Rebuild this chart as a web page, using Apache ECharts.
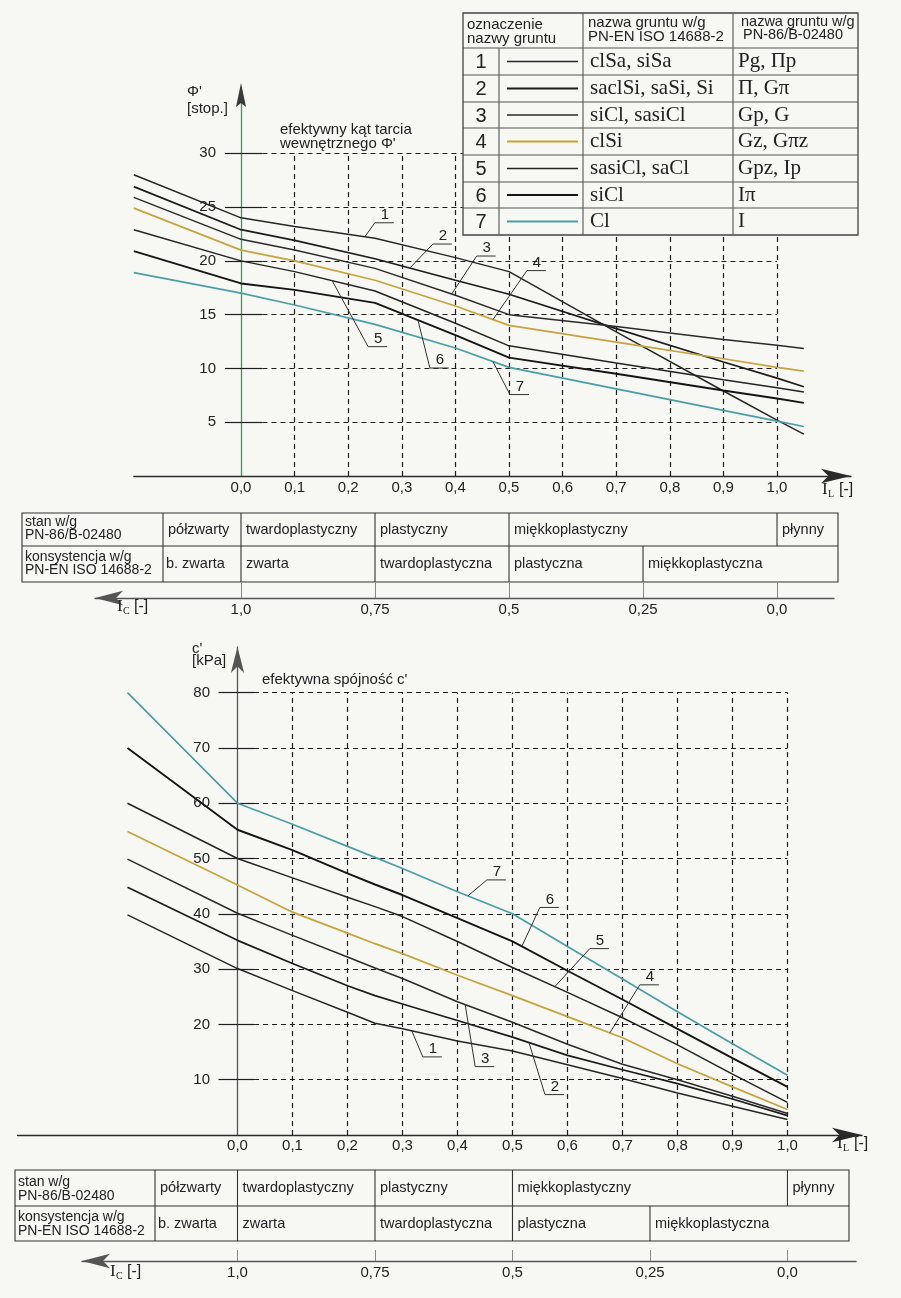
<!DOCTYPE html>
<html><head><meta charset="utf-8">
<script src="https://cdn.jsdelivr.net/npm/echarts@6/dist/echarts.min.js"></script>
<style>html,body{margin:0;padding:0;background:#f7f7f4;}#c{width:901px;height:1298px;}</style>
</head><body><div id="c"></div>
<script>
// ---------------- DATA ----------------
// upper chart: effective friction angle phi' [deg] vs IL
const phiX = [-0.2, 0, 0.1, 0.25, 0.4, 0.5, 0.7, 0.9, 1.0, 1.05];
const phi1 = [28.0, 24.0, 23.2, 22.1, 20.3, 19.0, 13.4, 7.9, 5.2, 3.9];
const phi2 = [26.9, 22.9, 21.9, 20.2, 18.2, 16.9, 13.7, 10.6, 9.1, 8.3];
const phi3 = [25.9, 22.0, 21.0, 19.3, 16.8, 15.0, 13.9, 12.7, 12.15, 11.85];
const phi4 = [24.9, 21.0, 20.0, 18.2, 15.8, 14.0, 12.45, 10.9, 10.1, 9.75];
const phi5 = [22.9, 20.0, 19.0, 17.2, 14.2, 12.1, 10.5, 8.95, 8.2, 7.8];
const phi6 = [20.9, 17.9, 17.3, 16.1, 13.1, 11.0, 9.5, 7.95, 7.2, 6.8];
const phi7 = [18.9, 17.0, 15.9, 14.1, 11.9, 10.1, 8.1, 6.1, 5.1, 4.6];
// lower chart: effective cohesion c' [kPa] vs IL
const cX = [-0.2, 0, 0.1, 0.2, 0.25, 0.3, 0.4, 0.5, 0.6, 0.7, 0.8, 0.9, 1.0];
const c1 = [39.8, 30.1, 26.1, 22.2, 20.2, 19.2, 17.0, 15.2, 12.7, 10.2, 7.6, 5.2, 2.8];
const c2 = [44.8, 35.2, 31.0, 27.0, 25.2, 23.7, 20.7, 17.7, 14.4, 11.8, 9.3, 6.5, 3.5];
const c3 = [49.9, 40.1, 36.1, 32.2, 30.2, 28.3, 24.1, 20.4, 16.4, 12.8, 10.0, 7.0, 3.9];
const c4 = [54.9, 45.2, 40.3, 36.5, 34.6, 32.8, 28.9, 25.2, 21.4, 17.6, 12.9, 8.7, 4.6];
const c5 = [60.0, 50.0, 46.5, 43.0, 41.3, 39.5, 35.0, 30.3, 25.8, 21.2, 16.3, 11.0, 5.9];
const c6 = [70.0, 55.2, 51.5, 47.3, 45.3, 43.4, 39.2, 35.0, 29.7, 24.5, 19.2, 13.9, 8.7];
const c7 = [80.0, 60.0, 56.2, 52.2, 50.2, 48.2, 44.0, 40.0, 34.1, 28.2, 22.3, 16.5, 10.8];
// ticks
const ilTicks = [0, 0.1, 0.2, 0.3, 0.4, 0.5, 0.6, 0.7, 0.8, 0.9, 1.0];
const phiTicks = [5, 10, 15, 20, 25, 30];
const cTicks = [10, 20, 30, 40, 50, 60, 70, 80];
const icAt = [0, 0.25, 0.5, 0.75, 1.0];
const icLabels = ['1,0', '0,75', '0,5', '0,25', '0,0'];
// legend table
const soilNo = ['1', '2', '3', '4', '5', '6', '7'];
const soilEN = ['clSa, siSa', 'saclSi, saSi, Si', 'siCl, sasiCl', 'clSi', 'sasiCl, saCl', 'siCl', 'Cl'];
const soilPN = ['Pg, \u03A0p', '\u03A0, G\u03C0', 'Gp, G', 'Gz, G\u03C0z', 'Gpz, Ip', 'I\u03C0', 'I'];
// consistency tables
const stanBounds = [0, 0.25, 0.5, 1.0];
const stanLabels = ['półzwarty', 'twardoplastyczny', 'plastyczny', 'miękkoplastyczny', 'płynny'];
const konsBounds = [0, 0.25, 0.5, 0.75];
const konsLabels = ['b. zwarta', 'zwarta', 'twardoplastyczna', 'plastyczna', 'miękkoplastyczna'];
// curve number call-outs: IL position on each curve
const phiNoteAt = [0.231, 0.315, 0.393, 0.47, 0.17, 0.33, 0.47];
const cNoteAt = [0.317, 0.53, 0.414, 0.677, 0.577, 0.517, 0.419];

// ---------------- STYLE ----------------
const SANS = '"Liberation Sans", Arial, sans-serif';
const SERIF = '"Liberation Serif", "Times New Roman", serif';
const INK = '#222';
const BG = '#f7f7f4';
const lineColors = ['#262626', '#1c1c1c', '#2a2a2a', '#c8a33c', '#242424', '#151515', '#4a9fa7'];
const lineWidths = [1.5, 1.7, 1.5, 1.7, 1.5, 1.9, 1.7];
const phiNoteOff = [[10, -14], [23, -24], [25, -38], [34, -49], [36, 66], [12, 48], [17, 33]];
const cNoteOff = [[11, 26], [16, 52], [10, 62], [30, -48], [35, -38], [18, -39], [19, -16]];

const chart = echarts.init(document.getElementById('c'));

const xFmt = v => (v < -1e-6 || v > 1.0001) ? '' : (Math.round(v * 10) / 10).toFixed(1).replace('.', ',');
const dash = { color: '#1e1e1e', width: 1.2, type: [5, 4] };
const solid = { color: '#1e1e1e', width: 1.2, type: 'solid' };

function curve(xs, ys, idx, k) {
  return { type: 'line', xAxisIndex: idx, yAxisIndex: idx, data: xs.map((x, i) => [x, ys[i]]),
    symbol: 'none', silent: true, z: 5, lineStyle: { color: lineColors[k], width: lineWidths[k] } };
}
function marks(idx, lines, style) {
  return { type: 'line', xAxisIndex: idx, yAxisIndex: idx, data: [], symbol: 'none', silent: true, z: 3,
    markLine: { silent: true, symbol: ['none', 'none'], label: { show: false }, animation: false,
      lineStyle: style, emphasis: { disabled: true }, data: lines } };
}
const phiSets = [phi1, phi2, phi3, phi4, phi5, phi6, phi7];
const cSets = [c1, c2, c3, c4, c5, c6, c7];

const series = [
  marks(0, phiTicks.map(v => [{ coord: [0.04, v] }, { coord: [1.0, v] }]).concat(
    ilTicks.slice(1).map(v => [{ coord: [v, 0] }, { coord: [v, 30] }])), dash),
  marks(0, phiTicks.map(v => [{ coord: [0, v] }, { coord: [0.04, v] }]), solid),
  marks(1, cTicks.map(v => [{ coord: [0.03, v] }, { coord: [1.0, v] }]).concat(
    ilTicks.slice(1).map(v => [{ coord: [v, 0] }, { coord: [v, 80] }])), dash),
  marks(1, cTicks.map(v => [{ coord: [0, v] }, { coord: [0.03, v] }]), solid)
];
phiSets.forEach((s, k) => series.push(curve(phiX, s, 0, k)));
cSets.forEach((s, k) => series.push(curve(cX, s, 1, k)));

const lab = { fontFamily: SANS, fontSize: 15, color: INK };
const icFmt = v => icLabels[icAt.findIndex(a => Math.abs(a - v) < 1e-6)] || '';
const option = {
  backgroundColor: BG,
  animation: false,
  grid: [
    { left: 133.8, top: 95.1, width: 717.2, height: 380.9, outerBoundsMode: 'none', containLabel: false },
    { left: 17.5, top: 647, width: 844.5, height: 488, outerBoundsMode: 'none', containLabel: false },
    { left: 95, top: 590, width: 739, height: 8, outerBoundsMode: 'none', containLabel: false },
    { left: 82, top: 1253, width: 774, height: 8, outerBoundsMode: 'none', containLabel: false }
  ],
  xAxis: [
    { type: 'value', gridIndex: 0, min: -0.2, max: 1.138, splitLine: { show: false }, axisTick: { show: false },
      axisLine: { lineStyle: { color: '#2a2a2a', width: 1.3 }, symbol: ['none', 'arrow'], symbolSize: [11, 30] },
      axisLabel: Object.assign({ customValues: ilTicks, formatter: xFmt, margin: 4 }, lab) },
    { type: 'value', gridIndex: 1, min: -0.4, max: 1.1355, splitLine: { show: false }, axisTick: { show: false },
      axisLine: { lineStyle: { color: '#2a2a2a', width: 1.3 }, symbol: ['none', 'arrow'], symbolSize: [11, 30] },
      axisLabel: Object.assign({ customValues: ilTicks, formatter: xFmt, margin: 3 }, lab) },
    { type: 'value', gridIndex: 2, min: -0.2724, max: 1.10634, splitLine: { show: false },
      axisLine: { onZero: false, lineStyle: { color: '#555', width: 1.3 }, symbol: ['arrow', 'none'], symbolSize: [11, 28] },
      axisTick: { customValues: icAt, inside: true, length: 15, lineStyle: { color: '#888', width: 1 } },
      axisLabel: Object.assign({ customValues: icAt, margin: 4, formatter: icFmt }, lab) },
    { type: 'value', gridIndex: 3, min: -0.2827, max: 1.12455, splitLine: { show: false },
      axisLine: { onZero: false, lineStyle: { color: '#555', width: 1.3 }, symbol: ['arrow', 'none'], symbolSize: [11, 28] },
      axisTick: { customValues: icAt, inside: true, length: 11, lineStyle: { color: '#888', width: 1 } },
      axisLabel: Object.assign({ customValues: icAt, margin: 4, formatter: icFmt }, lab) }
  ],
  yAxis: [
    { type: 'value', gridIndex: 0, min: 0, max: 35.41, splitLine: { show: false },
      axisLine: { onZero: true, lineStyle: { color: '#4f8d67', width: 1.3 } },
      axisTick: { customValues: phiTicks, length: 16, lineStyle: { color: '#1e1e1e', width: 1.2 } },
      axisLabel: Object.assign({ customValues: phiTicks, margin: -82.2 }, lab) },
    { type: 'value', gridIndex: 1, min: 0, max: 88.25, splitLine: { show: false },
      axisLine: { onZero: true, lineStyle: { color: '#555', width: 1.3 }, symbol: ['none', 'arrow'], symbolSize: [10, 26] },
      axisTick: { customValues: cTicks, length: 19, lineStyle: { color: '#1e1e1e', width: 1.2 } },
      axisLabel: Object.assign({ customValues: cTicks, margin: -192.5 }, lab) },
    { type: 'value', gridIndex: 2, min: 0, max: 1, show: false },
    { type: 'value', gridIndex: 3, min: 0, max: 1, show: false }
  ],
  series: series
};
chart.setOption(option);

// ---------------- GRAPHICS (tables, call-outs, labels) ----------------
const G = [];
function T(x, y, s, o) {
  o = o || {};
  G.push({ type: 'text', x: x, y: y, z: 200, silent: true,
    style: { text: s, x: 0, y: 0, fontFamily: o.ff || SANS, fontSize: o.fs || 15, fill: o.fill || INK,
      align: o.align || 'left', verticalAlign: 'middle', textAlign: o.align || 'left', textVerticalAlign: 'middle' } });
}
function L(x1, y1, x2, y2, c, w) {
  G.push({ type: 'line', z: 195, silent: true, shape: { x1: x1, y1: y1, x2: x2, y2: y2 },
    style: { stroke: c || '#333', lineWidth: w || 1 } });
}
function R(x, y, w, h, stroke, lw) {
  G.push({ type: 'rect', z: 190, silent: true, shape: { x: x, y: y, width: w, height: h },
    style: { fill: BG, stroke: stroke || '#333', lineWidth: lw || 1 } });
}
function interp(xs, ys, x) {
  for (let i = 0; i < xs.length - 1; i++) {
    if (x >= xs[i] && x <= xs[i + 1]) { const t = (x - xs[i]) / (xs[i + 1] - xs[i]); return ys[i] + t * (ys[i + 1] - ys[i]); }
  }
  return ys[ys.length - 1];
}
// call-outs
function notes(gi, xs, sets, at, off) {
  at.forEach((x, k) => {
    const p = chart.convertToPixel({ gridIndex: gi }, [x, interp(xs, sets[k], x)]);
    const ux = p[0] + off[k][0], uy = p[1] + off[k][1];
    L(p[0], p[1], ux, uy, '#333', 1);
    L(ux, uy, ux + 19, uy, '#333', 1);
    T(ux + 10, uy - 8, soilNo[k], { align: 'center' });
  });
}
notes(0, phiX, phiSets, phiNoteAt, phiNoteOff);
notes(1, cX, cSets, cNoteAt, cNoteOff);

// top y-axis arrow (dark head on the green axis line)
const ya = chart.convertToPixel({ gridIndex: 0 }, [0, 35.41]);
G.push({ type: 'polygon', z: 200, silent: true,
  shape: { points: [[ya[0], ya[1] - 12], [ya[0] + 5, ya[1] + 12], [ya[0], ya[1] + 8], [ya[0] - 5, ya[1] + 12]] },
  style: { fill: '#3a3a3a' } });

// axis titles
T(187, 92, "\u03A6'"); T(187, 109, '[stop.]');
T(280, 130, 'efektywny kąt tarcia'); T(280, 144, "wewnętrznego \u03A6'");
T(192, 649, "c'"); T(192, 661, '[kPa]');
T(262, 680, "efektywna spójność c'");
function sub(x, y, main, s) {
  T(x, y, main, { ff: SERIF, fs: 17 });
  T(x + 6, y + 4, s, { ff: SERIF, fs: 10 });
  T(x + 17, y, '[-]', { fs: 16 });
}
sub(822, 490, 'I', 'L');
sub(837, 1144, 'I', 'L');
sub(117, 607, 'I', 'C');
sub(110, 1272, 'I', 'C');

// consistency tables
function consTable(ax, left, right, labelEnd, y0, y1, y2, ly) {
  const px = v => chart.convertToPixel({ xAxisIndex: ax }, v);
  R(left, y0, right - left, y2 - y0, '#333', 1.1);
  L(left, y1, right, y1, '#333', 1.1);
  L(labelEnd, y0, labelEnd, y2, '#333', 1.1);
  const sb = [labelEnd].concat(stanBounds.map(px));
  stanBounds.forEach(b => L(px(b), y0, px(b), y1, '#333', 1.1));
  const kb = [labelEnd].concat(konsBounds.map(px));
  konsBounds.forEach(b => L(px(b), y1, px(b), y2, '#333', 1.1));
  stanLabels.forEach((s, i) => T(sb[i] + 5, (y0 + y1) / 2, s, { fs: 14.5 }));
  konsLabels.forEach((s, i) => T(kb[i] + (i === 0 ? 3 : 5), (y1 + y2) / 2, s, { fs: 14.5 }));
  T(left + 3, ly[0], 'stan w/g', { fs: 14 }); T(left + 3, ly[1], 'PN-86/B-02480', { fs: 14 });
  T(left + 3, ly[2], 'konsystencja w/g', { fs: 14 }); T(left + 3, ly[3], 'PN-EN ISO 14688-2', { fs: 14 });
}
consTable(0, 22, 838, 163, 513, 546, 582, [522, 535, 557, 570]);
consTable(1, 15, 849, 155, 1170, 1206, 1241, [1182, 1196, 1217, 1231]);

// legend table
const lgX = [463, 499, 583, 733, 858];
const lgY = [13, 48, 75, 102, 128, 155, 182, 208, 235];
R(lgX[0], lgY[0], lgX[4] - lgX[0], lgY[8] - lgY[0], '#444', 1.3);
for (let i = 1; i < 8; i++) L(lgX[0], lgY[i], lgX[4], lgY[i], '#555', 1.1);
L(lgX[2], lgY[0], lgX[2], lgY[8], '#555', 1.1);
L(lgX[3], lgY[0], lgX[3], lgY[8], '#555', 1.1);
L(lgX[1], lgY[1], lgX[1], lgY[8], '#555', 1.1);
T(467, 25, 'oznaczenie'); T(467, 39, 'nazwy gruntu');
T(588, 23, 'nazwa gruntu w/g'); T(588, 37, 'PN-EN ISO 14688-2');
T(741, 22, 'nazwa gruntu w/g', { fs: 14.5 }); T(743, 35, 'PN-86/B-02480', { fs: 14.5 });
soilNo.forEach((n, k) => {
  const cy = (lgY[k + 1] + lgY[k + 2]) / 2;
  T(481, cy + 1, n, { fs: 20, align: 'center' });
  L(507, cy, 578, cy, lineColors[k], lineWidths[k] + 0.2);
  T(590, cy, soilEN[k], { ff: SERIF, fs: 21 });
  T(738, cy, soilPN[k], { ff: SERIF, fs: 21 });
});

chart.setOption({ graphic: { elements: G } });
</script></body></html>
